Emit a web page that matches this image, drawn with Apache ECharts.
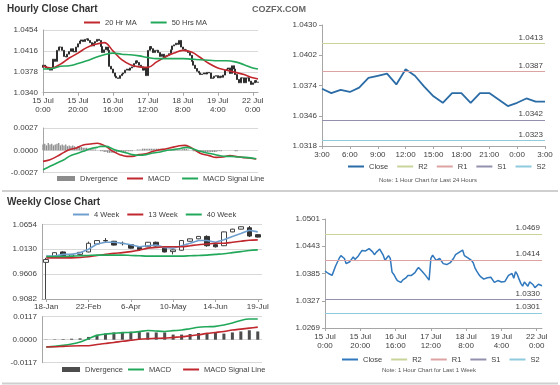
<!DOCTYPE html>
<html><head><meta charset="utf-8">
<script src="https://cdn.jsdelivr.net/npm/echarts@6/dist/echarts.min.js"></script>
<style>html,body{margin:0;padding:0;background:#fff;} .c{position:absolute;left:0;top:0;width:560px;height:385px;}</style>
</head><body>
<div id="a" class="c"></div><div id="b" class="c"></div><div id="c" class="c"></div><div id="d" class="c"></div>
<script>
// ---------------- DATA ----------------
const hourDays = ['15 Jul','16 Jul','17 Jul','18 Jul','19 Jul','22 Jul'];
// hourly closes 15 Jul 0:00 .. 22 Jul 3:00 (124 hours)
const hourClose = [
1.0390,1.0388,1.0385,1.0383,1.0381,1.0385,1.0401,1.0397,1.0417,1.0423,
1.0423,1.0417,1.0406,1.0405,1.0410,1.0415,1.0420,1.0415,1.0414,1.0423,
1.0429,1.0434,1.0436,1.0433,1.0437,1.0438,1.0435,1.0431,1.0425,1.0430,
1.0433,1.0437,1.0435,1.0424,1.0413,1.0418,1.0423,1.0417,1.0388,1.0383,
1.0376,1.0370,1.0367,1.0366,1.0371,1.0374,1.0376,1.0381,1.0383,1.0381,
1.0385,1.0387,1.0393,1.0398,1.0395,1.0390,1.0387,1.0381,1.0385,1.0371,
1.0417,1.0424,1.0420,1.0413,1.0417,1.0417,1.0413,1.0406,1.0410,1.0404,
1.0407,1.0408,1.0411,1.0418,1.0425,1.0427,1.0430,1.0428,1.0435,1.0423,
1.0419,1.0418,1.0416,1.0413,1.0408,1.0397,1.0390,1.0384,1.0379,1.0376,
1.0373,1.0374,1.0376,1.0374,1.0377,1.0376,1.0366,1.0367,1.0370,
1.0371,1.0367,1.0370,1.0368,1.0372,1.0381,1.0383,1.0385,1.0375,1.0389,
1.0383,1.0373,1.0364,1.0358,1.0367,1.0367,1.0358,1.0367,1.0367,1.0361,
1.0355,1.0358,1.0362,1.0359,1.0359];
const firstOpen = 1.0386;
const maHours = [0,5,10,15,20,25,30,35,40,45,50,55,60,65,70,75,80,85,90,95,100,105,110,115,120,123];
const ma20 = [1.0388,1.0385,1.0392,1.0403,1.0412,1.0422,1.0428,1.0431,1.0416,1.0400,1.0391,1.0387,1.0386,1.0396,1.0405,1.0412,1.0417,1.0414,1.0404,1.0393,1.0385,1.0381,1.0377,1.0373,1.0367,1.0365];
const ma50 = [1.0383,1.0384,1.0388,1.0389,1.0393,1.0398,1.0404,1.0409,1.0412,1.0410,1.0409,1.0407,1.0404,1.0402,1.0402,1.0402,1.0402,1.0401,1.0400,1.0399,1.0398,1.0398,1.0396,1.0391,1.0385,1.0383];
const macdHours = [0,4,8,12,15,19,23,27,31,33,36,40,44,48,51,55,59,63,67,70,74,78,81,84,88,91,95,99,103,107,110,114,118,122];
const macdHr = [-0.00133,-0.00113,-0.00073,-0.00024,0.00008,0.00028,0.00064,0.00077,0.00085,0.00077,0.00048,-0.00012,-0.00052,-0.00073,-0.00073,-0.00052,-0.00040,-0.00012,0.00008,0.00016,0.00036,0.00056,0.00060,0.00040,-0.00012,-0.00044,-0.00064,-0.00085,-0.00081,-0.00064,-0.00073,-0.00085,-0.00093,-0.00105];
const sigHours = [0,4,8,12,15,19,23,27,31,33,36,40,44,48,51,55,59,63,67,70,74,78,82,86,90,94,97,101,105,108,112,116,122];
const sigHr = [-0.00234,-0.00193,-0.00153,-0.00113,-0.00073,-0.00040,-0.00012,0.00020,0.00036,0.00048,0.00048,0.00016,-0.00012,-0.00032,-0.00052,-0.00060,-0.00052,-0.00032,-0.00020,-0.00004,0.00008,0.00020,0.00036,0.00016,-0.00012,-0.00032,-0.00044,-0.00064,-0.00073,-0.00073,-0.00081,-0.00085,-0.00101];
// divergence in units of 0.0001
const divHr = [7,8,6,9,7,8,6,7,8,9,6,7, 6,7,5,6,5,6,5,4,5,4,4,3,
3,3,2,2,2,1,1,0,0,-1,-1,-2,-2,-3, -3,-3,-3,-3,-3,-2,-2,-2,-2,-2,-1,-1,-1,-1,0,0,
1,1,1,2,2,2,2,2,2,2,2,2,2,2,2,2,1,1,1,1,1,1,1,1,1,1, 2,2,2,1,0,0,-1,-1,-2,-2,
-2,-2,-2,-2,-2,-2,-2,-2,-2,-2,-1,-1,-1,0,0,0,0,0,0,0,-1,-1,0,0,0,0,0,0,0,0,0,0,0,0];
const levelNames = ['R2','R1','S1','S2'];
const dayLevels = [1.0413, 1.0387, 1.0342, 1.0323];
const weekLevels = [1.0469, 1.0414, 1.0330, 1.0301];

const weekCats = ['18-Jan','25-Jan','1-Feb','8-Feb','15-Feb','22-Feb','1-Mar','8-Mar','15-Mar','22-Mar','6-Apr','12-Apr','19-Apr','26-Apr','3-May','10-May','17-May','24-May','31-May','7-Jun','14-Jun','21-Jun','28-Jun','5-Jul','12-Jul','19-Jul'];
// [open, close, low, high]
const weekOHLC = [
[0.9853,0.9912,0.9082,0.9948],[0.9970,1.0057,0.9962,1.0064],[1.0072,0.9970,0.9955,1.0086],[0.9977,1.0021,0.9970,1.0028],
[1.0021,1.0064,1.0013,1.0072],[1.0072,1.0254,1.0064,1.0290],[1.0239,1.0312,1.0232,1.0319],[1.0312,1.0305,1.0268,1.0363],
[1.0297,1.0217,1.0210,1.0305],[1.0254,1.0247,1.0210,1.0290],[1.0225,1.0152,1.0144,1.0232],[1.0166,1.0123,1.0093,1.0174],
[1.0181,1.0276,1.0174,1.0283],[1.0276,1.0196,1.0188,1.0290],[1.0152,1.0072,1.0064,1.0159],[1.0079,1.0115,1.0021,1.0123],
[1.0108,1.0312,1.0100,1.0319],[1.0297,1.0348,1.0290,1.0355],[1.0348,1.0399,1.0341,1.0407],[1.0399,1.0203,1.0181,1.0421],
[1.0225,1.0181,1.0166,1.0232],[1.0203,1.0494,1.0196,1.0501],[1.0494,1.0552,1.0487,1.0560],[1.0552,1.0603,1.0545,1.0611],
[1.0581,1.0407,1.0385,1.0618],[1.0436,1.0385,1.0378,1.0443]];
const week4 = [0.9984,0.9984,1.0021,1.0021,1.0057,1.0130,1.0239,1.0276,1.0276,1.0254,1.0225,1.0181,1.0203,1.0217,1.0166,1.0152,1.0203,1.0254,1.0312,1.0312,1.0276,1.0327,1.0399,1.0458,1.0530,1.0494];
const week13 = [0.9948,0.9948,0.9948,0.9948,0.9955,0.9970,0.9999,1.0021,1.0043,1.0057,1.0079,1.0108,1.0152,1.0166,1.0181,1.0181,1.0181,1.0203,1.0225,1.0239,1.0254,1.0254,1.0276,1.0297,1.0319,1.0327];
const week40 = [0.9977,0.9977,0.9977,0.9984,0.9992,0.9999,1.0006,1.0006,1.0006,1.0006,0.9999,0.9992,0.9984,0.9984,0.9984,0.9984,0.9984,0.9992,0.9999,1.0006,1.0021,1.0035,1.0057,1.0079,1.0101,1.0115];
const weekMacd = [-0.0037,-0.0034,-0.0029,-0.0022,-0.0012,0.0005,0.0022,0.0029,0.0032,0.0036,0.0037,0.0041,0.0047,0.0044,0.0042,0.0046,0.0049,0.0056,0.0063,0.0066,0.0068,0.0075,0.0085,0.0098,0.0105,0.0105];
const weekSig = [-0.0037,-0.0036,-0.0034,-0.0032,-0.0031,-0.0031,-0.0024,-0.0019,-0.0014,-0.0008,-0.0003,0.0002,0.0005,0.0007,0.0008,0.0012,0.0015,0.0020,0.0025,0.0032,0.0037,0.0042,0.0049,0.0054,0.0059,0.0064];
const weekDiv = [0.0001,0.0002,0.0003,0.0005,0.0007,0.0014,0.0025,0.0031,0.0037,0.0039,0.0041,0.0039,0.0037,0.0037,0.0037,0.0026,0.0026,0.0029,0.0034,0.0034,0.0037,0.0031,0.0037,0.0042,0.0048,0.0042];

// ---------------- BUILD ----------------
const hourCats = [];
hourDays.forEach((d, di) => {
  const n = di < 5 ? 24 : 4;
  for (let h = 0; h < n; h++) hourCats.push(d + '\n' + h + ':00');
});
const dayCats = hourCats.slice(99).map(s => s.split('\n')[1]);
const dayClose = hourClose.slice(99);
const hourCandles = hourClose.map((c, i) => {
  const o = i === 0 ? firstOpen : hourClose[i - 1];
  return [o, c, Math.min(o, c), Math.max(o, c)];
});
const pairs = (xs, ys) => xs.map((x, i) => [x, ys[i]]);

const FONT = '"Liberation Sans", Arial, Helvetica, sans-serif';
const AX = '#a6a6a6', GRIDC = '#d9d9d9', TXT = '#404040';
const RED = '#c0282e', GREEN = '#22a85a', BLUE4 = '#6f9fcf', CLOSE = '#2b6ca6';
const LVLC = ['#c8d49a', '#dda3a3', '#9390ad', '#8fcbdc'];
const lbl = (o) => Object.assign({fontSize: 8, color: TXT, fontFamily: FONT}, o || {});
const legTxt = {fontSize: 7.5, color: TXT, fontFamily: FONT};
const f4 = v => v.toFixed(4);

function valAxis(gi, min, max, step, opt) {
  return Object.assign({
    type: 'value', gridIndex: gi, min: min, max: max, interval: step,
    axisLabel: lbl({formatter: f4, margin: 5}),
    axisLine: {show: true, lineStyle: {color: AX}},
    axisTick: {show: false},
    splitLine: {show: true, lineStyle: {color: GRIDC, width: 1}}
  }, opt || {});
}
function line(name, data, color, xi, yi, extra) {
  return Object.assign({type: 'line', name: name, data: data, xAxisIndex: xi, yAxisIndex: yi,
    symbol: 'none', smooth: false, color: color, lineStyle: {color: color, width: 1.6}, itemStyle: {color: color}, z: 3}, extra || {});
}
function legendSeries(name, color) {
  return {type: 'line', name: name, data: [], symbol: 'none', color: color, lineStyle: {color: color, width: 1}, itemStyle: {color: color}};
}
function levelMarks(vals) {
  return {symbol: 'none', silent: true, animation: false, precision: 4,
    data: vals.map((v, i) => ({yAxis: v, lineStyle: {color: LVLC[i], type: 'solid', width: 1},
      label: {show: true, position: 'insideEndTop', formatter: f4(v), fontSize: 8, color: TXT, fontFamily: FONT, distance: 2}}))};
}
function lineLegend(names, left, top, gap) {
  return {data: names, left: left, top: top, icon: 'rect', itemWidth: 16, itemHeight: 2, itemGap: gap, textStyle: legTxt, padding: 0};
}
function barLegend(name, left, top) {
  return {data: [name], left: left, top: top, icon: 'rect', itemWidth: 18, itemHeight: 5, textStyle: legTxt, padding: 0};
}
const hourCatAxis = (gi, show) => ({
  type: 'category', gridIndex: gi, data: hourCats, boundaryGap: false,
  axisLine: {show: show, lineStyle: {color: AX}},
  axisTick: {show: show, interval: 19, length: 3, lineStyle: {color: AX}},
  axisLabel: show ? lbl({interval: 19, lineHeight: 9, margin: 4}) : {show: false},
  splitLine: {show: false}
});

// ---------- Chart A: hourly close + MACD ----------
const chA = echarts.init(document.getElementById('a'), null, {renderer: 'canvas', width: 560, height: 385});
chA.setOption({
  animation: false,
  textStyle: {fontFamily: FONT},
  graphic: [
    {type: 'text', left: 7, top: 4, style: {text: 'Hourly Close Chart', font: 'bold 10px ' + FONT, fill: '#333'}},
    {type: 'text', left: 252, top: 5, style: {text: 'COZFX.COM', font: 'bold 9px ' + FONT, fill: '#666'}},
    {type: 'line', shape: {x1: 2, y1: 191, x2: 558, y2: 191}, style: {stroke: '#cfcfcf', lineWidth: 2}},
    {type: 'line', shape: {x1: 2, y1: 383.5, x2: 558, y2: 383.5}, style: {stroke: '#cfcfcf', lineWidth: 2}}
  ],
  legend: [
    lineLegend(['20 Hr MA', '50 Hrs MA'], 84, 18.5, 14),
    barLegend('Divergence', 57, 174.5),
    lineLegend(['MACD', 'MACD Signal Line'], 127, 174.5, 12)
  ],
  grid: [
    {left: 43, top: 30, width: 215, height: 62.7},
    {left: 43, top: 128, width: 215, height: 44.7}
  ],
  xAxis: [hourCatAxis(0, true), hourCatAxis(1, false)],
  yAxis: [
    valAxis(0, 1.0340, 1.0454, 0.0038),
    valAxis(1, -0.0027, 0.0027, 0.0027)
  ],
  series: [
    {type: 'candlestick', name: 'Hourly', data: hourCandles, xAxisIndex: 0, yAxisIndex: 0, barWidth: 1.5,
      itemStyle: {color: '#ffffff', color0: '#2e2e2e', borderColor: '#2e2e2e', borderColor0: '#2e2e2e', borderWidth: 1}},
    line('20 Hr MA', pairs(maHours, ma20), RED, 0, 0, {smooth: 0.4}),
    line('50 Hrs MA', pairs(maHours, ma50), GREEN, 0, 0, {smooth: 0.4}),
    {type: 'bar', name: 'Divergence', data: divHr.map(v => v * 0.0001), xAxisIndex: 1, yAxisIndex: 1, barWidth: 1.3,
      color: '#8c8c8c', itemStyle: {color: '#8c8c8c'}},
    line('MACD', pairs(macdHours, macdHr), RED, 1, 1, {smooth: 0.4}),
    line('MACD Signal Line', pairs(sigHours, sigHr), GREEN, 1, 1, {smooth: 0.4})
  ]
});

// ---------- Chart B: last 24 hours ----------
const chB = echarts.init(document.getElementById('b'), null, {renderer: 'canvas', width: 560, height: 385});
chB.setOption({
  animation: false,
  textStyle: {fontFamily: FONT},
  graphic: [
    {type: 'text', left: 379, top: 177, style: {text: 'Note: 1 Hour Chart for Last 24 Hours', font: '6px ' + FONT, fill: '#555'}}
  ],
  legend: lineLegend(['Close', 'R2', 'R1', 'S1', 'S2'], 348, 162.5, 9),
  grid: {left: 322, top: 25, width: 223, height: 121},
  xAxis: {type: 'category', data: dayCats, boundaryGap: false,
    axisLine: {lineStyle: {color: AX}}, axisTick: {interval: 2, length: 3, lineStyle: {color: AX}},
    axisLabel: lbl({interval: 2, margin: 5})},
  yAxis: valAxis(0, 1.0318, 1.0430, 0.0028, {splitLine: {show: false}, axisTick: {show: true, length: 3, lineStyle: {color: AX}}}),
  series: [
    line('Close', dayClose, CLOSE, 0, 0, {lineStyle: {color: CLOSE, width: 1.8}, markLine: levelMarks(dayLevels)}),
  ].concat(levelNames.map((n, i) => legendSeries(n, LVLC[i])))
});

// ---------- Chart C: weekly ----------
const weekCatAxis = (gi, show) => ({
  type: 'category', gridIndex: gi, data: weekCats, boundaryGap: true,
  axisLine: {show: show, lineStyle: {color: AX}},
  axisTick: {show: show, interval: 4, alignWithLabel: true, length: 3, lineStyle: {color: AX}},
  axisLabel: show ? lbl({interval: 4, margin: 4}) : {show: false},
  splitLine: {show: false}
});
const chC = echarts.init(document.getElementById('c'), null, {renderer: 'canvas', width: 560, height: 385});
chC.setOption({
  animation: false,
  textStyle: {fontFamily: FONT},
  graphic: [
    {type: 'text', left: 7, top: 197, style: {text: 'Weekly Close Chart', font: 'bold 10px ' + FONT, fill: '#333'}}
  ],
  legend: [
    lineLegend(['4 Week', '13 Week', '40 Week'], 73, 210.5, 8),
    barLegend('Divergence', 62, 365.5),
    lineLegend(['MACD', 'MACD Signal Line'], 128, 365.5, 12)
  ],
  grid: [
    {left: 42, top: 224.3, width: 220, height: 74.7},
    {left: 42, top: 316.7, width: 220, height: 46}
  ],
  xAxis: [weekCatAxis(0, true), weekCatAxis(1, false)],
  yAxis: [
    valAxis(0, 0.9082, 1.0654, 0.0524),
    valAxis(1, -0.0117, 0.0117, 0.0117)
  ],
  series: [
    {type: 'candlestick', name: 'Weekly', data: weekOHLC, xAxisIndex: 0, yAxisIndex: 0, barWidth: 5,
      itemStyle: {color: '#ffffff', color0: '#333333', borderColor: '#444', borderColor0: '#333', borderWidth: 1}},
    line('4 Week', week4, BLUE4, 0, 0),
    line('13 Week', week13, RED, 0, 0, {smooth: 0.3}),
    line('40 Week', week40, GREEN, 0, 0, {smooth: 0.3}),
    {type: 'bar', name: 'Divergence', data: weekDiv, xAxisIndex: 1, yAxisIndex: 1, barWidth: 3,
      color: '#4d4d4d', itemStyle: {color: '#4d4d4d'}},
    line('MACD', weekMacd, GREEN, 1, 1, {smooth: 0.3}),
    line('MACD Signal Line', weekSig, RED, 1, 1, {smooth: 0.3})
  ]
});

// ---------- Chart D: last week hourly ----------
const chD = echarts.init(document.getElementById('d'), null, {renderer: 'canvas', width: 560, height: 385});
chD.setOption({
  animation: false,
  textStyle: {fontFamily: FONT},
  graphic: [
    {type: 'text', left: 382, top: 367, style: {text: 'Note: 1 Hour Chart for Last 1 Week', font: '6px ' + FONT, fill: '#555'}}
  ],
  legend: lineLegend(['Close', 'R2', 'R1', 'S1', 'S2'], 342, 355.5, 9),
  grid: {left: 325, top: 219, width: 217, height: 109},
  xAxis: {type: 'category', data: hourCats, boundaryGap: false,
    axisLine: {lineStyle: {color: AX}}, axisTick: {interval: 19, length: 3, lineStyle: {color: AX}},
    axisLabel: lbl({interval: 19, lineHeight: 9, margin: 4})},
  yAxis: valAxis(0, 1.0269, 1.0501, 0.0058, {splitLine: {show: false}, axisTick: {show: true, length: 3, lineStyle: {color: AX}}}),
  series: [
    line('Close', hourClose, '#2f78bd', 0, 0, {lineStyle: {color: '#2f78bd', width: 1.5}, markLine: levelMarks(weekLevels)})
  ].concat(levelNames.map((n, i) => legendSeries(n, LVLC[i])))
});
</script></body></html>
